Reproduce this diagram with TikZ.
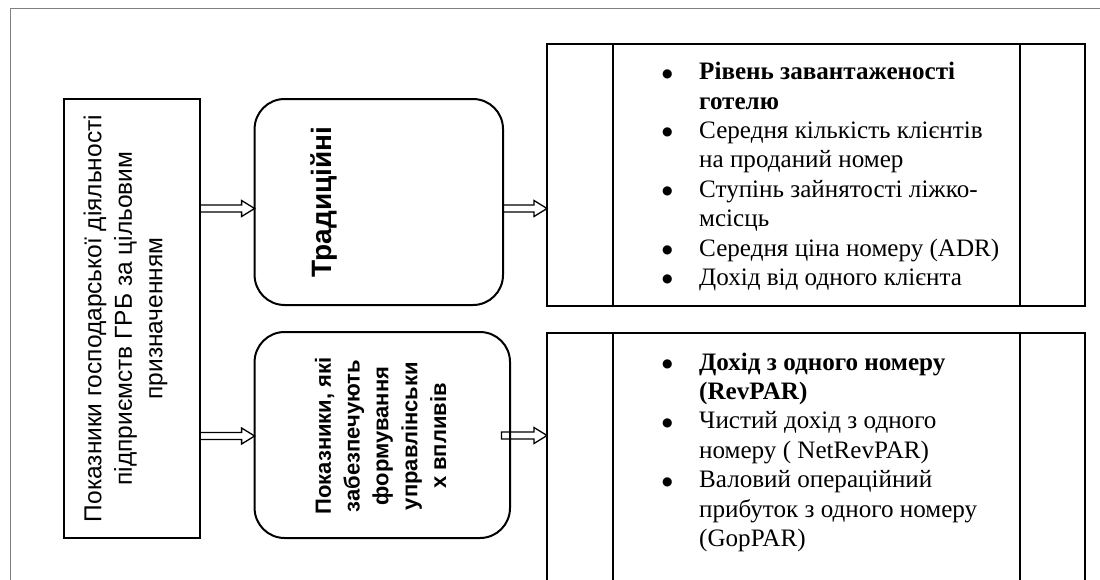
\documentclass[tikz,border=0pt]{standalone}
\usepackage{fontspec}
\setmainfont{Liberation Serif}
\setsansfont{Liberation Sans}
\newfontfamily\dotfont{DejaVu Sans}
\usetikzlibrary{calc}
\newcommand\hollowarrow[4]{%
  \draw[harrow] let \p1=([xshift=#4]#1.east), \p2=(#2.west), \p3=(0,#3) in
    (\x1,\y3+3.5pt) -- (\x2-13pt,\y3+3.5pt) -- (\x2-13pt,\y3+8pt) -- (\x2,\y3)
    -- (\x2-13pt,\y3-8pt) -- (\x2-13pt,\y3-3.5pt) -- (\x1,\y3-3.5pt) -- cycle;}
\newcommand\bigbullet{\smash{\raisebox{2.5pt}{\dotfont\fontsize{12}{12}\selectfont ●}}}
\begin{document}
\begin{tikzpicture}[x=1pt,y=-1pt,
  box/.style={draw=black, line width=2pt, inner sep=0pt, outer sep=0pt},
  roundbox/.style={box, rounded corners=30pt},
  harrow/.style={draw=black, line width=1.3pt, line join=miter},
  frameline/.style={draw=black!50, line width=1pt},
  lefttext/.style={rotate=90, align=center, inner sep=0pt,
    font=\sffamily\fontsize{24.5}{30.5}\selectfont},
  boldtext/.style={rotate=90, align=center, inner sep=0pt,
    font=\sffamily\bfseries\fontsize{22}{28.8}\selectfont},
  listtext/.style={anchor=north west, inner sep=0pt,
    font=\rmfamily\fontsize{25.1}{29.4}\selectfont}
]
\clip (0,0) rectangle (1100,579);
\draw[frameline] (10.5,590) -- (10.5,8) -- (1110,8);

% boxes
\node[box, minimum width=136pt, minimum height=439pt] (L) at (132,318.5) {};
\node[roundbox, minimum width=248.4pt, minimum height=206pt] (T1) at (378.8,202) {};
\node[roundbox, minimum width=255.4pt, minimum height=206pt] (T2) at (382.3,435) {};
\node[box, minimum width=538pt, minimum height=262pt] (R1) at (816,175) {};
\node[box, minimum width=538pt, minimum height=287pt] (R2) at (816,476.5) {};
\draw[line width=2pt] ([xshift=66pt]R1.north west) -- ([xshift=66pt]R1.south west);
\draw[line width=2pt] ([xshift=-65pt]R1.north east) -- ([xshift=-65pt]R1.south east);
\draw[line width=2pt] ([xshift=66pt]R2.north west) -- ([xshift=66pt]R2.south west);
\draw[line width=2pt] ([xshift=-65pt]R2.north east) -- ([xshift=-65pt]R2.south east);

% texts
\node[lefttext] (Ltext) at (125.5,318.5) {Показники господарської діяльності\\підприємств ГРБ за цільовим\\призначенням};
\node[boldtext, font=\sffamily\bfseries\fontsize{28}{30}\selectfont] (T1text) at (324,202) {Традиційні};
\node[boldtext] (T2text) at (380.6,436) {Показники, які\\забезпечують\\формування\\управлінськи\\х впливів};

\node[listtext] (list1) at (662,58.9) {\begin{tabular}{@{}p{37pt}@{}l@{}}
\bigbullet & \textbf{Рівень завантаженості}\\
 & \textbf{готелю}\\
\bigbullet & Середня кількість клієнтів\\
 & на проданий номер\\
\bigbullet & Ступінь зайнятості ліжко-\\
 & мсісць\\
\bigbullet & Середня ціна номеру (ADR)\\
\bigbullet & Дохід від одного клієнта
\end{tabular}};
\node[listtext] (list2) at (662,349.4) {\begin{tabular}{@{}p{37pt}@{}l@{}}
\bigbullet & \textbf{Дохід з одного номеру}\\
 & \textbf{(RevPAR)}\\
\bigbullet & Чистий дохід з одного\\
 & номеру ( NetRevPAR)\\
\bigbullet & Валовий операційний\\
 & прибуток з одного номеру\\
 & (GopPAR)
\end{tabular}};

% arrows
\hollowarrow{L}{T1}{208.5}{0pt}
\hollowarrow{L}{T2}{436}{0pt}
\hollowarrow{T1}{R1}{208.5}{0pt}
\hollowarrow{T2}{R2}{435.5}{-8.5pt}
\end{tikzpicture}
\end{document}
